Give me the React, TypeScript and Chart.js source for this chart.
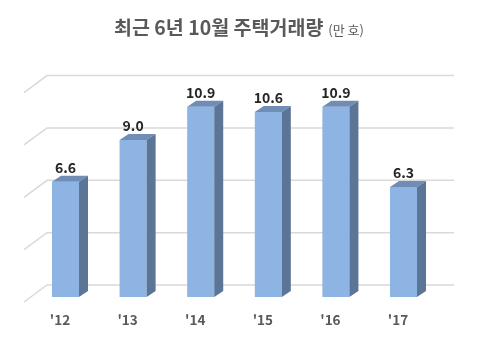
import React, { useEffect, useRef } from "react";
import { Chart, registerables } from "chart.js";

Chart.register(...registerables);

const categories = ["'12", "'13", "'14", "'15", "'16", "'17"];
const values = [6.6, 9.0, 10.9, 10.6, 10.9, 6.3];
const gridTicks = [0, 3, 6, 9, 12];
const titleMain = "최근 6년 10월 주택거래량";
const titleUnit = "(만 호)";

const FONT = "'Noto Sans CJK KR', 'Noto Sans', sans-serif";

const threeD = {
  id: "threeD",
  beforeDatasetsDraw(chart: any) {
    const { ctx } = chart;
    const y = chart.scales.y;
    ctx.save();
    ctx.strokeStyle = "#D9D9D9";
    ctx.lineWidth = 1.5;
    for (const t of gridTicks) {
      const yv = y.getPixelForValue(t);
      ctx.beginPath();
      ctx.moveTo(24, yv + 5);
      ctx.lineTo(47, yv - 12);
      ctx.lineTo(454, yv - 12);
      ctx.stroke();
    }
    ctx.restore();
  },
  afterDatasetsDraw(chart: any) {
    const { ctx } = chart;
    const meta = chart.getDatasetMeta(0);
    const dx = 9;
    const dy = 6;
    ctx.save();
    meta.data.forEach((bar: any, i: number) => {
      const { x, y, base, width } = bar.getProps(["x", "y", "base", "width"], true);
      const l = x - width / 2;
      const r = x + width / 2;
      ctx.fillStyle = "#6F8DB5";
      ctx.beginPath();
      ctx.moveTo(l, y);
      ctx.lineTo(l + dx, y - dy);
      ctx.lineTo(r + dx, y - dy);
      ctx.lineTo(r, y);
      ctx.closePath();
      ctx.fill();
      ctx.fillStyle = "#5B7596";
      ctx.beginPath();
      ctx.moveTo(r, y);
      ctx.lineTo(r + dx, y - dy);
      ctx.lineTo(r + dx, base - dy);
      ctx.lineTo(r, base);
      ctx.closePath();
      ctx.fill();
      ctx.fillStyle = "#262626";
      ctx.font = `bold 14px ${FONT}`;
      ctx.textAlign = "center";
      ctx.textBaseline = "middle";
      ctx.fillText(values[i].toFixed(1), x, y - 14);
      ctx.fillStyle = "#595959";
      ctx.font = `bold 13.5px ${FONT}`;
      ctx.fillText(categories[i], x - 5.5, 320);
    });
    ctx.textBaseline = "alphabetic";
    ctx.textAlign = "left";
    ctx.font = `bold 19.5px ${FONT}`;
    const w1 = ctx.measureText(titleMain).width;
    ctx.font = `13px ${FONT}`;
    const w2 = ctx.measureText(titleUnit).width;
    const gap = 5;
    const start = 239 - (w1 + gap + w2) / 2;
    ctx.fillStyle = "#595959";
    ctx.font = `bold 19.5px ${FONT}`;
    ctx.fillText(titleMain, start, 35);
    ctx.font = `13px ${FONT}`;
    ctx.fillText(titleUnit, start + w1 + gap, 35);
    ctx.restore();
  },
};

export default function App() {
  const ref = useRef<HTMLCanvasElement>(null);
  useEffect(() => {
    document.body.style.margin = "0";
    const chart = new Chart(ref.current!, {
      type: "bar",
      data: {
        labels: categories,
        datasets: [
          {
            data: values,
            backgroundColor: "#8EB4E3",
            borderWidth: 0,
            barPercentage: 0.4,
            categoryPercentage: 1,
          },
        ],
      },
      options: {
        animation: false,
        responsive: false,
        layout: { padding: { left: 31.7, right: 42.7, top: 87.6, bottom: 62 } },
        plugins: { legend: { display: false }, tooltip: { enabled: false }, title: { display: false } },
        scales: {
          x: { display: false },
          y: { display: false, min: 0, max: 12 },
        },
      },
      plugins: [threeD],
    });
    return () => chart.destroy();
  }, []);
  return <canvas ref={ref} width={480} height={359} style={{ display: "block" }} />;
}
